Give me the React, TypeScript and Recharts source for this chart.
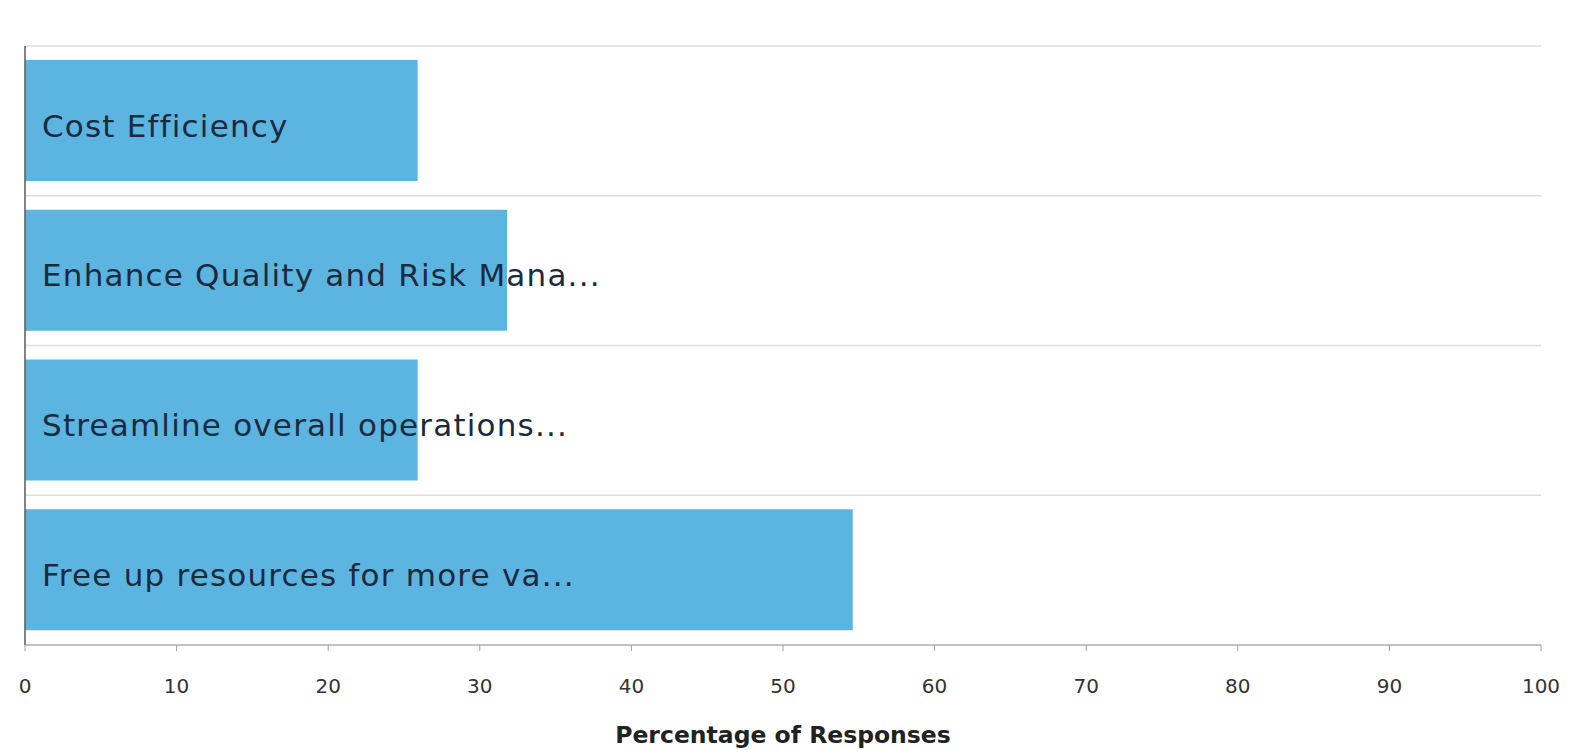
import React from "react";
import { BarChart, Bar, XAxis, YAxis, CartesianGrid, LabelList, ReferenceLine } from "recharts";

// Survey answers, top to bottom
const categories = [
  "Cost Efficiency",
  "Enhance Quality and Risk Mana...",
  "Streamline overall operations...",
  "Free up resources for more va...",
];
const percentages = [25.9, 31.8, 25.9, 54.6];
const xTicks = [0, 10, 20, 30, 40, 50, 60, 70, 80, 90, 100];
// band boundaries (in category slots) used for the horizontal separators
const bandEdges = [0, 1, 2, 3, 4];

const data = categories.map((name, i) => ({ name, value: percentages[i] }));

const FONT = "'DejaVu Sans', Verdana, sans-serif";

const BarName = (props: any) => {
  const { x, y, height, value } = props;
  return (
    <text
      x={x + 17}
      y={y + height / 2 + 16}
      fill="#1c2a3e"
      fontSize={31}
      letterSpacing={1.2}
      fontFamily={FONT}
    >
      {value}
    </text>
  );
};

const separators = ({ offset }: any) =>
  bandEdges.map((i) => offset.top + (offset.height * i) / categories.length);

export default function App() {
  return (
    <div style={{ position: "absolute", left: 0, top: 0, background: "#fff" }}>
      <BarChart
        width={1570}
        height={750}
        data={data}
        layout="vertical"
        margin={{ top: 46, right: 29, bottom: 0, left: 25 }}
        barSize={121}
      >
        <CartesianGrid
          vertical={false}
          horizontalCoordinatesGenerator={separators}
          stroke="#dedede"
          strokeWidth={1.5}
        />
        <XAxis
          type="number"
          domain={[0, 100]}
          ticks={xTicks}
          height={105}
          tickSize={6}
          tickMargin={28}
          stroke="#a0a0a0"
          tick={{ fill: "#333", fontSize: 20, fontFamily: FONT }}
          label={{
            value: "Percentage of Responses",
            position: "insideBottom",
            offset: 7,
            style: { fill: "#222", fontSize: 23.5, fontWeight: "bold", fontFamily: FONT },
          }}
        />
        <YAxis type="category" dataKey="name" width={0} tick={false} tickLine={false} axisLine={false} />
        <Bar dataKey="value" fill="#5BB5E0" isAnimationActive={false}>
          <LabelList dataKey="name" content={BarName} />
        </Bar>
        <ReferenceLine x={0} stroke="#5a5a5a" strokeWidth={1.5} />
      </BarChart>
    </div>
  );
}
